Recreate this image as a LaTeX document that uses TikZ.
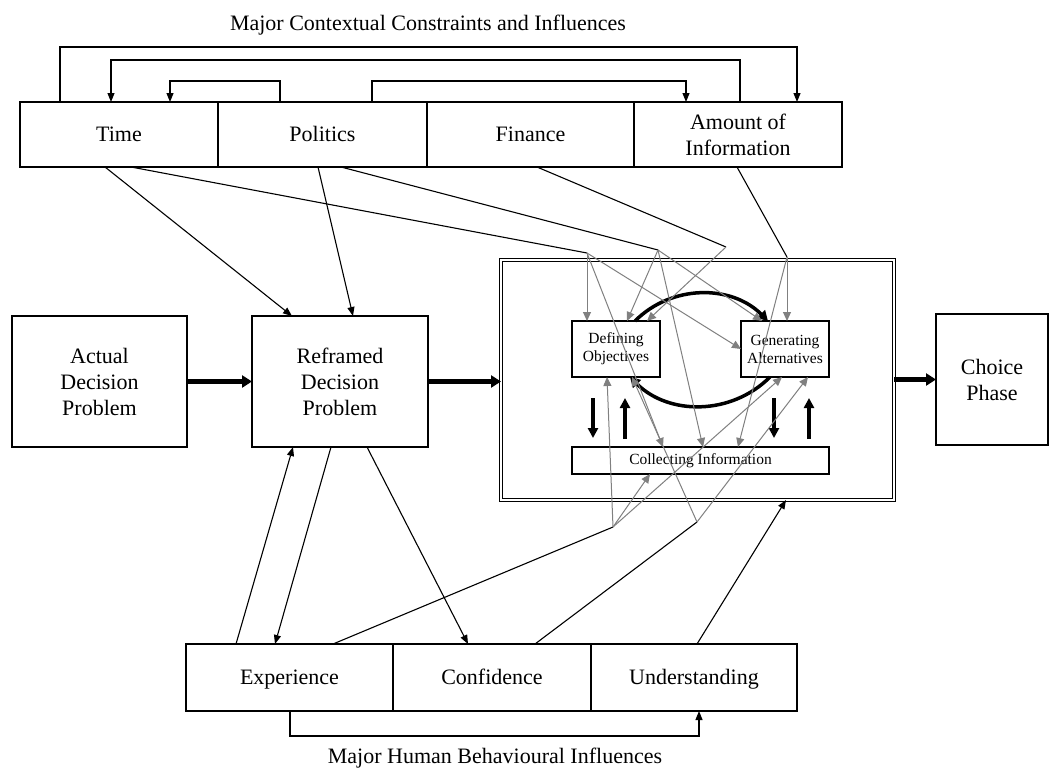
\documentclass[tikz,border=0pt]{standalone}
\usepackage{fontspec}
\setmainfont{Liberation Serif}
\usetikzlibrary{arrows.meta}
\usetikzlibrary{positioning}

\begin{document}
\begin{tikzpicture}[x=1pt,y=-1pt,
  cbox/.style={draw,line width=1.3pt,inner sep=0pt,outer sep=0pt,align=center,
    font=\fontsize{22}{26}\selectfont},
  rowbox/.style={draw,line width=1.3pt,inner sep=0pt,outer sep=0pt,
    font=\fontsize{22}{26}\selectfont,text height=15pt,text depth=2pt},
  sbox/.style={draw,line width=1.1pt,inner sep=0pt,outer sep=0pt,align=center,
    font=\fontsize{15.5}{18}\selectfont},
  thinarr/.style={line width=1.1pt,-{Triangle[length=9pt,width=7pt]}},
  greyarr/.style={draw=gray,line width=1pt,-{Triangle[length=9pt,width=8pt]}},
  fatarr/.style={line width=5pt,-{Triangle[length=10pt,width=12pt]}},
  fatvert/.style={line width=4pt,-{Triangle[length=10pt,width=10pt]}},
  curvarr/.style={line width=3.5pt,-{Triangle[length=10pt,width=11pt]}}]
  \path[fill=white] (0,0) rectangle (1051,769);

  % contextual constraints
  \node[font=\fontsize{22}{26}\selectfont] (ctxtitle) at (428,25) {Major Contextual Constraints and Influences};
  \node[rowbox,minimum width=198pt,minimum height=65pt] (time) at (119,134.5) {Time};
  \node[rowbox,minimum width=209pt,minimum height=65pt,right=0pt of time] (politics) {Politics};
  \node[rowbox,minimum width=207pt,minimum height=65pt,right=0pt of politics] (finance) {Finance};
  \node[cbox,minimum width=208pt,minimum height=65pt,right=0pt of finance] (amount) {Amount of\\Information};

  % decision problem
  \node[cbox,minimum width=175pt,minimum height=131pt] (actual) at (99.5,381.5) {Actual\\Decision\\Problem};
  \node[cbox,minimum width=176pt,minimum height=131pt,right=65pt of actual] (reframed) {Reframed\\Decision\\Problem};
  \node[draw,double,line width=1.2pt,double distance=2pt,outer sep=0pt,
      minimum width=393pt,minimum height=240pt] (formul) at (697.5,380) {};
  \node[cbox,minimum width=112pt,minimum height=131pt] (choice) at (992,379.5) {Choice\\Phase};

  \node[sbox,minimum width=88pt,minimum height=56pt] (defobj) at (616,349) {Defining\\Objectives};
  \node[sbox,minimum width=88pt,minimum height=56pt] (genalt) at (785,349) {Generating\\Alternatives};
  \node[sbox,minimum width=257pt,minimum height=27pt] (collinfo) at (700.5,460.5) {Collecting Information};

  % human influences
  \node[rowbox,minimum width=207pt,minimum height=67pt] (experience) at (289.5,677.5) {Experience};
  \node[rowbox,minimum width=198pt,minimum height=67pt,right=0pt of experience] (confidence) {Confidence};
  \node[rowbox,minimum width=206pt,minimum height=67pt,right=0pt of confidence] (understanding) {Understanding};
  \node[font=\fontsize{22}{26}\selectfont] (humtitle) at (495,758) {Major Human Behavioural Influences};

  \coordinate (f1) at (587,253);
  \coordinate (f2) at (658,250);
  \coordinate (f3) at (726,247);
  \coordinate (f4) at (787,257);
  \coordinate (f5) at (613,527);
  \coordinate (f6) at (697,522);

  \draw[thinarr] ([xshift=-59pt]time.north) -- ++(0,-55) -| ([xshift=59pt]amount.north);
  \draw[thinarr] ([xshift=2pt]amount.north) -- ++(0,-42) -| ([xshift=-8pt]time.north);
  \draw[thinarr] ([xshift=-42.5pt]politics.north) -- ++(0,-21) -| ([xshift=51pt]time.north);
  \draw[thinarr] ([xshift=49.5pt]politics.north) -- ++(0,-21) -| ([xshift=-52pt]amount.north);

  \draw[thinarr] ([xshift=-14pt]time.south) -- ([xshift=-48pt]reframed.north);
  \draw[thinarr] ([xshift=-4.5pt]politics.south) -- ([xshift=13pt]reframed.north);
  \draw[thinarr] ([xshift=-53.5pt]experience.north) -- ([xshift=-47pt]reframed.south);
  \draw[thinarr] ([xshift=-9pt]reframed.south) -- ([xshift=-14.5pt]experience.north);
  \draw[thinarr] ([xshift=27pt]reframed.south) -- ([xshift=-24pt]confidence.north);
  \draw[thinarr] ([xshift=3pt]understanding.north) -- ([xshift=88.5pt]formul.south);
  \draw[thinarr] ([xshift=0.5pt]experience.south) -- ++(0,25) -| ([xshift=5pt]understanding.south);

  \path[draw,line width=1.1pt]
    ([xshift=12pt]time.south) -- (f1)
    ([xshift=18.5pt]politics.south) -- (f2)
    ([xshift=6.5pt]finance.south) -- (f3)
    ([xshift=-1pt]amount.south) -- (f4)
    ([xshift=43.5pt]experience.north) -- (f5)
    ([xshift=43pt]confidence.north) -- (f6);

  \draw[fatarr] (actual) -- (reframed);
  \draw[fatarr] (reframed.east) -- (reframed.east -| formul.west);
  \draw[fatarr] (formul.east |- choice.west) -- (choice.west);

  \draw[curvarr] ([xshift=19pt]defobj.north) to[bend left=45] ([xshift=-17pt]genalt.north);
  \draw[curvarr] ([xshift=-15pt]genalt.south) to[bend left=45] ([xshift=14pt]defobj.south);

  \draw[fatvert,shorten <=21pt,shorten >=9pt] ([xshift=-23pt]defobj.south) -- ([xshift=-23pt]defobj.south |- collinfo.north);
  \draw[fatvert,shorten <=8pt,shorten >=21pt] ([xshift=9pt]defobj.south |- collinfo.north) -- ([xshift=9pt]defobj.south);
  \draw[fatvert,shorten <=21pt,shorten >=9pt] ([xshift=-11pt]genalt.south) -- ([xshift=-11pt]genalt.south |- collinfo.north);
  \draw[fatvert,shorten <=8pt,shorten >=21pt] ([xshift=24pt]genalt.south |- collinfo.north) -- ([xshift=24pt]genalt.south);

  \path
    (f1) edge[greyarr] ([xshift=-29pt]defobj.north)
    (f1) edge[greyarr] (genalt.west)
    (f1) edge[greyarr] ([xshift=-37.5pt]collinfo.north)
    (f2) edge[greyarr] ([xshift=11pt]defobj.north)
    (f2) edge[greyarr] ([xshift=-23pt]genalt.north)
    (f2) edge[greyarr] ([xshift=2.5pt]collinfo.north)
    (f3) edge[greyarr] ([xshift=31pt]defobj.north)
    (f4) edge[greyarr] ([xshift=2pt]genalt.north)
    (f4) edge[greyarr] ([xshift=37.5pt]collinfo.north)
    (f5) edge[greyarr] ([xshift=-9pt]defobj.south)
    (f5) edge[greyarr] ([xshift=-50.5pt]collinfo.south)
    (f5) edge[greyarr] ([xshift=-3pt]genalt.south)
    (f6) edge[greyarr] ([xshift=16pt]defobj.south)
    (f6) edge[greyarr] ([xshift=23pt]genalt.south);
\end{tikzpicture}
\end{document}
